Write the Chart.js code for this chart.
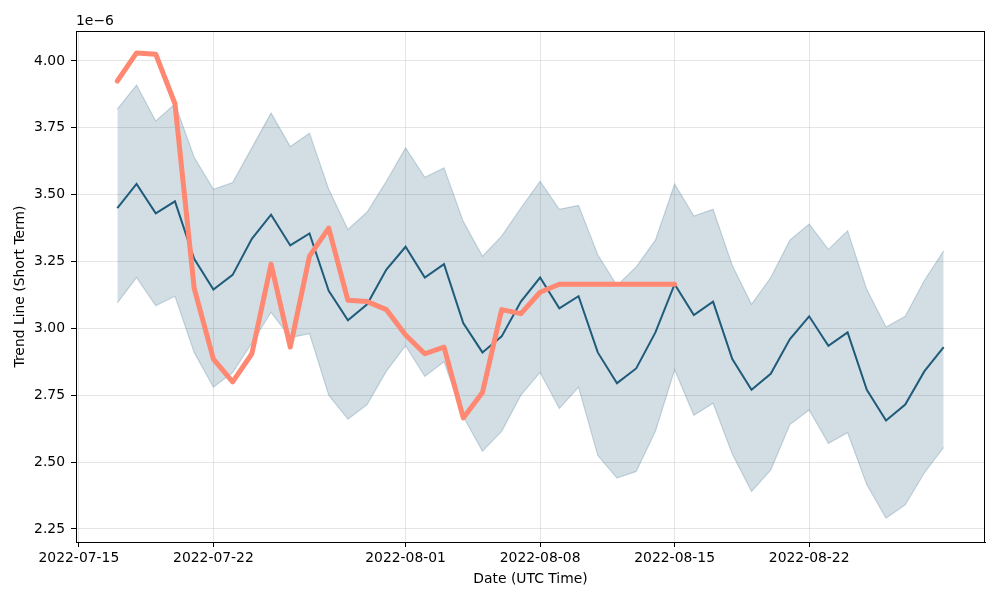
<!DOCTYPE html>
<html>
<head>
<meta charset="utf-8">
<script src="https://cdn.jsdelivr.net/npm/chart.js@4"></script>
<style>
  html, body { margin: 0; padding: 0; background: #fff; }
  #wrap { width: 1000px; height: 600px; }
</style>
</head>
<body>
<div id="wrap"><canvas id="chart" width="1000" height="600"></canvas></div>
<script>
// values in units of 1e-6
const dates = [
  '2022-07-17','2022-07-18','2022-07-19','2022-07-20','2022-07-21','2022-07-22','2022-07-23','2022-07-24',
  '2022-07-25','2022-07-26','2022-07-27','2022-07-28','2022-07-29','2022-07-30','2022-07-31','2022-08-01',
  '2022-08-02','2022-08-03','2022-08-04','2022-08-05','2022-08-06','2022-08-07','2022-08-08','2022-08-09',
  '2022-08-10','2022-08-11','2022-08-12','2022-08-13','2022-08-14','2022-08-15','2022-08-16','2022-08-17',
  '2022-08-18','2022-08-19','2022-08-20','2022-08-21','2022-08-22','2022-08-23','2022-08-24','2022-08-25',
  '2022-08-26','2022-08-27','2022-08-28','2022-08-29'
];
const trendMean = [
  3.45, 3.54, 3.43, 3.475, 3.26, 3.145, 3.20, 3.335, 3.425, 3.31, 3.355, 3.14, 3.03, 3.09, 3.22, 3.305,
  3.19, 3.24, 3.02, 2.91, 2.97, 3.10, 3.19, 3.075, 3.12, 2.91, 2.795, 2.85, 2.985, 3.165, 3.05, 3.10,
  2.885, 2.77, 2.83, 2.96, 3.045, 2.935, 2.985, 2.77, 2.655, 2.715, 2.84, 2.93
];
const trendUpper = [
  3.82, 3.91, 3.775, 3.84, 3.64, 3.52, 3.545, 3.675, 3.805, 3.68, 3.73, 3.52, 3.37, 3.435, 3.55, 3.675,
  3.565, 3.60, 3.40, 3.27, 3.345, 3.45, 3.55, 3.445, 3.46, 3.275, 3.16, 3.23, 3.33, 3.54, 3.42, 3.445,
  3.235, 3.09, 3.19, 3.33, 3.39, 3.295, 3.365, 3.145, 3.005, 3.045, 3.18, 3.29
];
const trendLower = [
  3.095, 3.19, 3.085, 3.12, 2.91, 2.78, 2.835, 2.945, 3.06, 2.965, 2.98, 2.75, 2.66, 2.715, 2.84, 2.935,
  2.82, 2.875, 2.67, 2.54, 2.615, 2.75, 2.835, 2.70, 2.78, 2.525, 2.44, 2.465, 2.615, 2.845, 2.675, 2.72,
  2.53, 2.39, 2.47, 2.64, 2.695, 2.57, 2.61, 2.415, 2.29, 2.34, 2.46, 2.555
];
const actual = [
  3.925, 4.03, 4.025, 3.84, 3.15, 2.885, 2.80, 2.905, 3.24, 2.93, 3.27, 3.375, 3.105, 3.10, 3.07, 2.975,
  2.905, 2.93, 2.665, 2.76, 3.07, 3.055, 3.135, 3.165, 3.165, 3.165, 3.165, 3.165, 3.165, 3.165
];
const xTickDates = ['2022-07-15','2022-07-22','2022-08-01','2022-08-08','2022-08-15','2022-08-22'];
const yTicks = [2.25, 2.50, 2.75, 3.00, 3.25, 3.50, 3.75, 4.00];

const DAY = 86400000;
const origin = Date.parse('2022-07-15');
const toX = d => (Date.parse(d) - origin) / DAY;
const toDate = x => new Date(origin + Math.round(x) * DAY).toISOString().slice(0, 10);
const pts = arr => arr.map((v, i) => ({ x: toX(dates[i]), y: v }));

const FONT = 'DejaVu Sans';
const FS = 13.9;
const BLUE = '#1f5b7a';

const frame = {
  id: 'frame',
  afterDraw(chart) {
    const { ctx, chartArea: a } = chart;
    ctx.save();
    ctx.strokeStyle = '#000';
    ctx.lineWidth = 1;
    ctx.strokeRect(a.left + 0.5, a.top + 0.5, a.right - a.left - 1, a.bottom - a.top);
    ctx.fillStyle = '#000';
    ctx.font = FS + 'px ' + FONT;
    ctx.textAlign = 'left';
    ctx.textBaseline = 'bottom';
    ctx.fillText('1e\u22126', a.left, a.top - 3);
    ctx.restore();
  }
};

new Chart(document.getElementById('chart'), {
  type: 'line',
  data: {
    datasets: [
      {
        data: pts(actual), borderColor: '#ff8872', borderWidth: 5, pointRadius: 0,
        fill: false, order: 0, borderJoinStyle: 'round', borderCapStyle: 'round'
      },
      {
        data: pts(trendMean), borderColor: BLUE, borderWidth: 2, pointRadius: 0,
        fill: false, order: 1
      },
      {
        data: pts(trendUpper), borderColor: 'rgba(31,91,122,0.22)', borderWidth: 1.2, pointRadius: 0,
        backgroundColor: 'rgba(31,91,122,0.2)', fill: '+1', order: 2
      },
      {
        data: pts(trendLower), borderColor: 'rgba(31,91,122,0.22)', borderWidth: 1.2, pointRadius: 0,
        fill: false, order: 3
      }
    ]
  },
  options: {
    responsive: false,
    animation: false,
    layout: { padding: { top: 31, right: 15, left: 8, bottom: 12 } },
    plugins: { legend: { display: false }, tooltip: { enabled: false } },
    scales: {
      x: {
        type: 'linear', min: -0.15, max: 47.15,
        afterBuildTicks: s => { s.ticks = xTickDates.map(d => ({ value: toX(d) })); },
        afterFit: s => { s.height = 46; },
        ticks: { callback: v => toDate(v), color: '#000', font: { family: FONT, size: FS }, maxRotation: 0, padding: 3 },
        grid: { color: 'rgba(170,170,170,0.3)', tickColor: '#000', tickLength: 5 },
        border: { color: '#000' },
        title: { display: true, text: 'Date (UTC Time)', color: '#000', font: { family: FONT, size: FS }, padding: { top: 0, bottom: 0 } }
      },
      y: {
        min: 2.201, max: 4.112,
        afterBuildTicks: s => { s.ticks = yTicks.map(v => ({ value: v })); },
        afterFit: s => { s.width = 68; },
        ticks: { callback: v => v.toFixed(2), color: '#000', font: { family: FONT, size: FS }, padding: 6 },
        grid: { color: 'rgba(170,170,170,0.3)', tickColor: '#000', tickLength: 5 },
        border: { color: '#000' },
        title: { display: true, text: 'Trend Line (Short Term)', color: '#000', font: { family: FONT, size: FS }, padding: { bottom: 4 } }
      }
    }
  },
  plugins: [frame]
});
</script>
</body>
</html>
